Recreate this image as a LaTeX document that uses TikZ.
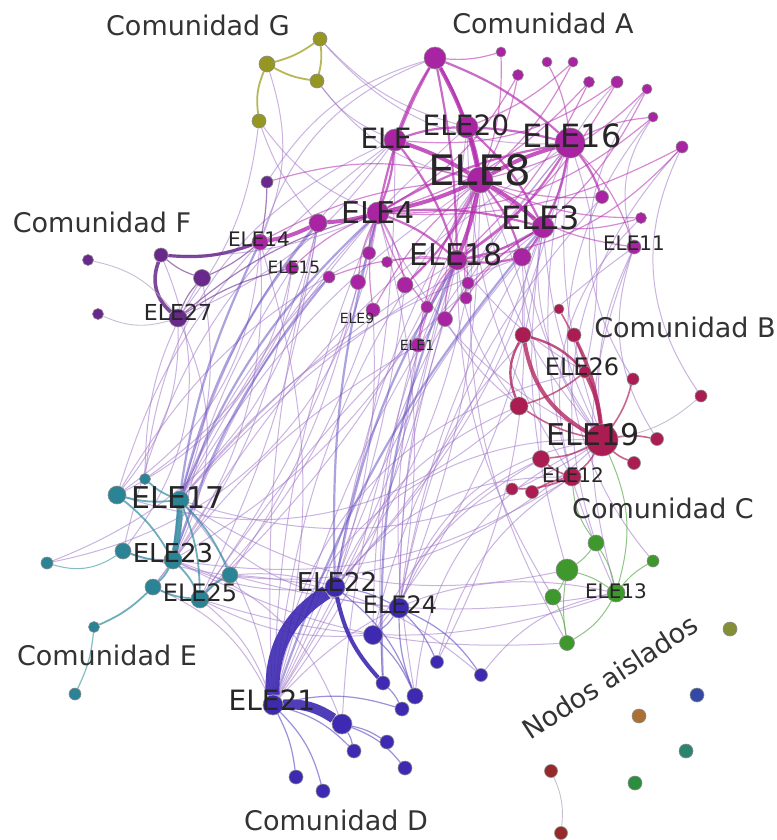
\documentclass[tikz,border=0pt]{standalone}
\usepackage{fontspec}
\setmainfont{DejaVu Sans}
\usetikzlibrary{backgrounds}

\definecolor{colA}{RGB}{168,36,162}
\definecolor{colB}{RGB}{170,28,82}
\definecolor{colC}{RGB}{62,152,44}
\definecolor{colD}{RGB}{62,42,178}
\definecolor{colE}{RGB}{42,132,150}
\definecolor{colF}{RGB}{104,40,140}
\definecolor{colG}{RGB}{150,150,34}
\definecolor{linkLilac}{RGB}{160,118,200}
\definecolor{linkBlue}{RGB}{90,70,190}
\definecolor{linkGray}{RGB}{175,165,190}
\definecolor{linkMag}{RGB}{180,45,175}
\definecolor{linkCrim}{RGB}{178,38,95}
\definecolor{linkTeal}{RGB}{50,142,158}
\definecolor{linkGreen}{RGB}{95,172,82}
\definecolor{linkOlive}{RGB}{165,165,45}

\pgfdeclarelayer{edges}
\pgfsetlayers{background,edges,main}

\tikzset{
    vtx/.style={
           circle,
           inner sep=0pt,
           draw=black!45, line width=0.3pt,
           },
    nA/.style={vtx, fill=colA, minimum size=#1pt},
    nB/.style={vtx, fill=colB, minimum size=#1pt},
    nC/.style={vtx, fill=colC, minimum size=#1pt},
    nD/.style={vtx, fill=colD, minimum size=#1pt},
    nE/.style={vtx, fill=colE, minimum size=#1pt},
    nF/.style={vtx, fill=colF, minimum size=#1pt},
    nG/.style={vtx, fill=colG, minimum size=#1pt},
    elelbl/.style={text=black!85, inner sep=0pt, font=\fontsize{#1}{#1}\selectfont},
    comlbl/.style={text=black!80, inner sep=0pt, font=\fontsize{13.5}{15}\selectfont},
    link/.style={draw=linkLilac, line width=0.5pt, opacity=0.55},
    greylink/.style={draw=linkGray, line width=0.45pt, opacity=0.7},
    bluelink/.style={draw=linkBlue, line width=0.5pt, opacity=0.5},
}

\begin{document}
\begin{tikzpicture}[x=0.5pt, y=-0.5pt]
  \useasboundingbox (0,0) rectangle (776,840);
  \begin{pgfonlayer}{background}
    \fill[white] (0,0) rectangle (776,840);
  \end{pgfonlayer}

  % Comunidad A
  \node[nA=11] (aT)    at (435,58)  {};
  \node[nA=5]  (t1)    at (501,52)  {};
  \node[nA=5.5](t2)    at (518,75)  {};
  \node[nA=5]  (t3)    at (547,62)  {};
  \node[nA=5]  (t4)    at (573,62)  {};
  \node[nA=5.5](t5)    at (589,82)  {};
  \node[nA=6]  (t6)    at (617,82)  {};
  \node[nA=5]  (t7)    at (647,89)  {};
  \node[nA=5]  (t8)    at (653,117) {};
  \node[nA=6]  (t9)    at (682,147) {};
  \node[nA=6.5](t10)   at (602,197) {};
  \node[nA=5.5](t11)   at (641,218) {};
  \node[nA=7]  (ele11) at (634,247) {};
  \node[nA=11] (ele)   at (395,140) {};
  \node[nA=11] (ele20) at (467,127) {};
  \node[nA=15] (ele16) at (570,143) {};
  \node[nA=13] (ele8)  at (480,180) {};
  \node[nA=11] (ele4)  at (378,213) {};
  \node[nA=9]  (aL)    at (318,223) {};
  \node[nA=11] (ele3)  at (543,227) {};
  \node[nA=9]  (aR)    at (522,257) {};
  \node[nA=10] (ele18) at (457,260) {};
  \node[nA=6.5](m1)    at (369,253) {};
  \node[nA=5.5](m2)    at (387,262) {};
  \node[nA=8]  (m3)    at (405,285) {};
  \node[nA=6]  (m4)    at (468,283) {};
  \node[nA=6]  (m5)    at (329,277) {};
  \node[nA=7.5](m6)    at (358,282) {};
  \node[nA=6]  (m7)    at (466,298) {};
  \node[nA=6]  (m8)    at (427,307) {};
  \node[nA=7.5](m9)    at (445,319) {};
  \node[nA=7]  (ele9)  at (373,310) {};
  \node[nA=7]  (ele1)  at (418,345) {};
  \node[nA=8]  (ele14) at (260,242) {};
  \node[nA=6.5](ele15) at (292,268) {};

  % Comunidad F
  \node[nF=5.5](f1)    at (88,260)  {};
  \node[nF=7]  (f2)    at (161,255) {};
  \node[nF=8.5](f3)    at (202,278) {};
  \node[nF=5.5](f4)    at (98,314)  {};
  \node[nF=6]  (f5)    at (267,182) {};
  \node[nF=9]  (ele27) at (178,318) {};

  % Comunidad G
  \node[nG=7]  (g1)    at (320,39)  {};
  \node[nG=8]  (g2)    at (267,64)  {};
  \node[nG=7]  (g3)    at (317,81)  {};
  \node[nG=7]  (g4)    at (259,121) {};

  % Comunidad B
  \node[nB=8]  (b1)    at (523,335) {};
  \node[nB=7]  (b2)    at (574,335) {};
  \node[nB=5]  (b3)    at (559,309) {};
  \node[nB=6]  (b4)    at (633,379) {};
  \node[nB=6]  (b5)    at (701,396) {};
  \node[nB=9]  (b6)    at (519,406) {};
  \node[nB=6]  (ele26) at (585,372) {};
  \node[nB=16] (ele19) at (602,440) {};
  \node[nB=6.5](b7)    at (657,439) {};
  \node[nB=6.5](b8)    at (634,463) {};
  \node[nB=8.5](b9)    at (541,459) {};
  \node[nB=9]  (ele12) at (572,477) {};
  \node[nB=6]  (b10)   at (512,489) {};
  \node[nB=6.5](b11)   at (532,492) {};

  % Comunidad C
  \node[nC=8]  (c1)    at (596,543) {};
  \node[nC=11] (c2)    at (567,570) {};
  \node[nC=6]  (c3)    at (653,561) {};
  \node[nC=8]  (c4)    at (553,597) {};
  \node[nC=9]  (ele13) at (616,593) {};
  \node[nC=7.5](c5)    at (567,643) {};

  % Comunidad D
  \node[nD=10] (ele22) at (335,587) {};
  \node[nD=10] (ele24) at (399,608) {};
  \node[nD=9.5](d1)    at (373,635) {};
  \node[nD=6.5](d2)    at (437,662) {};
  \node[nD=6.5](d3)    at (481,675) {};
  \node[nD=7]  (d4)    at (383,683) {};
  \node[nD=8]  (d5)    at (415,696) {};
  \node[nD=7]  (d6)    at (402,709) {};
  \node[nD=10] (ele21) at (273,705) {};
  \node[nD=10] (d7)    at (342,724) {};
  \node[nD=7]  (d8)    at (387,742) {};
  \node[nD=7]  (d9)    at (354,751) {};
  \node[nD=7]  (d10)   at (405,768) {};
  \node[nD=7]  (d11)   at (296,777) {};
  \node[nD=7]  (d12)   at (323,791) {};

  % Comunidad E
  \node[nE=9]  (e1)    at (117,495) {};
  \node[nE=5.5](e2)    at (145,479) {};
  \node[nE=9]  (ele17) at (180,500) {};
  \node[nE=6]  (e3)    at (47,563)  {};
  \node[nE=8]  (e4)    at (123,551) {};
  \node[nE=9]  (ele23) at (173,560) {};
  \node[nE=8]  (e5)    at (230,575) {};
  \node[nE=8]  (e6)    at (153,587) {};
  \node[nE=9]  (ele25) at (200,599) {};
  \node[nE=5.5](e7)    at (94,627)  {};
  \node[nE=6]  (e8)    at (75,694)  {};

  % Nodos aislados
  \node[vtx, fill={rgb,255:red,132;green,142;blue,52}, minimum size=7pt] (i1) at (730,629) {};
  \node[vtx, fill={rgb,255:red,52;green,72;blue,165}, minimum size=7pt]  (i2) at (697,695) {};
  \node[vtx, fill={rgb,255:red,172;green,112;blue,52}, minimum size=7pt] (i3) at (639,716) {};
  \node[vtx, fill={rgb,255:red,42;green,132;blue,112}, minimum size=7pt] (i4) at (686,751) {};
  \node[vtx, fill={rgb,255:red,42;green,142;blue,62}, minimum size=7pt]  (i5) at (635,783) {};
  \node[vtx, fill={rgb,255:red,150;green,42;blue,42}, minimum size=6.5pt] (i6) at (551,771) {};
  \node[vtx, fill={rgb,255:red,150;green,42;blue,42}, minimum size=6.5pt] (i7) at (561,833) {};

  \begin{pgfonlayer}{edges}
    % long links between communities
    \foreach \s/\t/\b in {ele/ele17/-15, ele20/ele17/-10, ele8/ele17/-12, ele18/ele17/-8, ele3/ele17/-10,
        ele16/ele23/-12, ele4/ele23/-10, ele18/ele23/15, ele8/ele25/12, ele3/ele25/-8, ele4/ele25/10,
        aL/ele25/8, ele15/ele23/-10, m1/e1/-15, m5/ele17/-10, m6/e5/10, ele9/ele25/12, ele1/ele23/-10,
        ele14/e1/-12, ele15/e6/15, aR/ele17/-15, ele/e4/-20,
        ele8/ele22/-10, ele8/ele24/10, ele8/ele21/-15, ele3/ele22/12, ele3/ele24/-10, ele3/d1/15,
        ele16/ele22/15, ele16/ele21/-12, ele20/ele21/12, ele18/ele24/-8, ele18/ele21/10, ele18/d1/-12,
        ele4/ele21/-10, ele4/ele24/12, aR/ele22/-10, aR/d2/15, m9/ele24/-8, m3/ele21/10, m7/ele22/12,
        m8/d4/-10, ele1/ele21/15, ele1/d5/-10, ele9/ele22/10, ele/ele21/12, aL/ele21/-8, ele14/ele21/15,
        t10/ele24/-15, ele11/d1/-20, ele16/d7/-18,
        ele8/ele19/-15, ele3/ele19/-10, ele16/ele19/-12, ele18/ele26/-10, ele3/b1/-12, ele18/b6/-15,
        ele4/ele19/-18, aR/ele19/-10, ele16/ele26/15, ele11/ele19/-15, t9/b5/-30, ele20/ele12/-15,
        ele8/b9/12, m9/b6/-10, t7/b4/-35, t8/ele11/-25,
        ele16/ele13/-18, ele3/c2/-12, t9/c1/-30, ele11/ele13/-18, ele18/c4/-15, ele8/c5/-18,
        ele/ele27/15, ele4/f2/12, aT/f5/-20, aT/ele14/-25,
        ele21/ele19/40, ele22/ele12/25, ele24/ele19/30, d1/b9/15, d3/ele13/20, ele21/ele26/35, ele22/b6/20,
        ele23/ele22/-15, ele25/ele21/15, ele17/ele24/-20, e5/ele22/10, e6/ele21/20, ele23/d7/25,
        ele17/ele21/15, ele25/d1/-15, e5/d3/18,
        ele17/ele19/-25, ele23/ele12/-20, e1/b6/-30, ele25/ele13/-18, ele17/c2/-22, ele23/c5/-15,
        e5/ele13/-12, e4/ele19/-30,
        e3/ele4/-35, e2/aL/-20, e1/ele14/-25, g4/ele27/15, g2/ele14/20, g3/ele/-15, g3/ele8/-20,
        g4/ele4/-15, g4/aL/-10, g1/ele20/-15, g1/ele16/-25,
        ele27/e1/20, f3/ele17/15, ele27/ele23/25, f2/e4/30, ele14/e6/20, aL/e3/30, f3/e2/-15,
        ele15/e1/25, ele/e2/-30, t6/ele19/-40, t8/c3/-40, ele11/b7/-25, t11/ele12/-30,
        ele21/ele13/30, d5/ele19/30, d2/ele12/20, ele24/b9/20}
      \draw[link] (\s) to[bend left=\b] (\t);
    \foreach \s/\t/\b in {ele4/ele17/-12, aL/ele17/-12, ele14/ele23/-10, ele18/ele22/-10,
        ele4/ele22/-8, m5/ele23/-10, ele18/d4/-12, ele3/ele21/-10}
      \draw[bluelink, line width=1.1pt] (\s) to[bend left=\b] (\t);

    % Comunidad A
    \foreach \s/\t/\b in {t1/ele8/10, t2/ele8/8, t3/ele16/10, t4/ele8/10, t5/ele4/15, t6/ele18/12,
        t7/ele3/10, t8/ele16/-10, t9/ele4/15, t10/ele8/10, t11/ele3/10, ele11/ele16/-12, ele11/ele8/15,
        m1/ele4/10, m2/ele18/10, m3/ele4/-10, m4/ele8/10, m5/ele18/12, m6/ele4/10, m7/ele8/10,
        m8/ele18/10, m9/ele3/12, ele9/ele8/10, ele1/ele18/10, ele14/ele8/12, ele15/ele4/10, f5/ele8/15,
        t9/ele18/20, t6/ele/20, t2/ele4/15, t1/aT/10, t4/ele20/10, t5/ele18/10, t7/ele8/15,
        t8/ele4/20, t11/ele8/12, m9/ele18/10, ele1/ele8/12, ele9/ele4/10, m7/ele3/12, m8/ele4/10}
      \draw[draw=linkMag, line width=0.6pt, opacity=0.55] (\s) to[bend left=\b] (\t);
    \foreach \s/\t/\b in {aT/ele20/5, aT/ele/-5, aT/ele16/10, aT/ele4/-8, aT/ele18/5, ele/ele4/8,
        ele/ele18/10, ele20/ele16/5, ele16/ele3/8, ele3/ele18/10, ele4/ele18/10, ele3/aR/8,
        ele18/aR/-10, ele8/aR/10, ele16/t10/8, ele4/ele3/10, ele8/m3/10, ele16/ele18/12,
        ele20/ele3/10, ele/ele20/8, ele4/ele16/10}
      \draw[draw=linkMag, line width=1.1pt, opacity=0.7] (\s) to[bend left=\b] (\t);
    \foreach \s/\t/\b in {ele8/ele16/6, ele8/ele3/6, ele8/ele18/5, ele8/ele4/6, aT/ele8/8,
        ele/ele8/6, ele20/ele8/5, ele4/aL/5, aL/ele14/8}
      \draw[draw=linkMag, line width=2pt, opacity=0.8] (\s) to[bend left=\b] (\t);

    % Comunidad F
    \draw[draw=colF, line width=1.6pt, opacity=0.85] (f2) to[bend right=12] (ele14);
    \draw[draw=colF, line width=1.8pt, opacity=0.85] (f2) to[bend right=35] (ele27);
    \foreach \s/\t/\b in {f2/f3/-10, ele27/f3/10, f3/ele14/-8, ele27/ele15/10, ele27/ele4/12, f5/ele14/5}
      \draw[draw=colF, line width=0.6pt, opacity=0.6] (\s) to[bend left=\b] (\t);
    \draw[greylink] (f1) to[bend left=20] (ele27);
    \draw[greylink] (f4) to[bend right=20] (ele27);

    % Comunidad G
    \foreach \s/\t/\b in {g1/g2/10, g1/g3/10, g2/g3/-10, g2/g4/-15}
      \draw[draw=linkOlive, line width=0.9pt, opacity=0.8] (\s) to[bend left=\b] (\t);

    % Comunidad B
    \draw[draw=linkCrim, line width=2pt, opacity=0.8] (ele19) to[bend right=10] (ele26);
    \draw[draw=linkCrim, line width=2pt, opacity=0.8] (ele19) to[bend left=25] (b1);
    \draw[draw=linkCrim, line width=1.4pt, opacity=0.8] (ele19) to[bend right=10] (b2);
    \draw[draw=linkCrim, line width=1.2pt, opacity=0.8] (ele26) to[bend right=15] (b1);
    \draw[draw=linkCrim, line width=1.2pt, opacity=0.8] (b1) to[bend right=25] (b6);
    \foreach \s/\t/\b in {ele19/b6/10, ele19/ele12/10, ele19/b7/10, ele19/b8/-10, ele19/b9/10,
        ele12/b10/10, ele12/b11/-10, b3/ele19/10, b4/ele19/10, ele26/b6/10, ele12/b9/10}
      \draw[draw=linkCrim, line width=0.8pt, opacity=0.7] (\s) to[bend left=\b] (\t);
    \draw[greylink] (b5) to[bend left=15] (ele19);

    % Comunidad C
    \foreach \s/\t/\b in {c1/c2/10, c2/ele13/10, c2/c4/10, c4/c5/10, ele13/c3/10, ele13/c5/15,
        c1/ele13/10, c2/c5/-8, ele13/ele19/-20, c1/ele12/15}
      \draw[draw=linkGreen, line width=0.5pt, opacity=0.7] (\s) to[bend left=\b] (\t);

    % Comunidad D
    \draw[draw=colD, line width=7pt, opacity=0.9] (ele22) to[bend right=30] (ele21);
    \draw[draw=colD, line width=5pt, opacity=0.9] (ele21) to[bend left=18] (d7);
    \draw[draw=colD, line width=2pt, opacity=0.9] (ele22) to[bend right=15] (d4);
    \foreach \s/\t/\b in {ele24/d1/10, ele22/ele24/10, ele21/d11/10, ele21/d12/15, ele21/d9/15,
        d7/d8/10, d7/d10/15, ele24/d2/10, ele24/d3/15, ele22/d5/15, ele21/d6/15, d1/d5/10,
        ele24/d5/-10, d7/d9/10, d4/d6/10}
      \draw[draw=linkBlue, line width=0.6pt, opacity=0.6] (\s) to[bend left=\b] (\t);

    % Comunidad E
    \draw[draw=linkTeal, line width=3pt, opacity=0.85] (ele17) to[bend left=5] (ele23);
    \foreach \s/\t/\b in {ele17/e1/10, ele17/e2/10, ele23/e4/10, ele23/ele25/10, ele25/e5/10,
        ele25/e6/10, e6/e7/10, ele23/e6/10, ele17/e5/10, e1/ele23/10, ele25/ele17/-10}
      \draw[draw=linkTeal, line width=0.9pt, opacity=0.7] (\s) to[bend left=\b] (\t);
    \draw[draw=linkTeal, line width=0.5pt, opacity=0.6] (e4) to[bend left=25] (e3);
    \draw[draw=linkTeal, line width=0.6pt, opacity=0.6] (e7) to[bend left=10] (e8);

    % Nodos aislados
    \draw[greylink] (i6) to[bend left=15] (i7);
  \end{pgfonlayer}

  % labels
  \node[elelbl=21] (lbl8)  at (480,170) {ELE8};
  \node[elelbl=14] (lbl20) at (466,125) {ELE20};
  \node[elelbl=14] (lblx)  at (386,138) {ELE};
  \node[elelbl=16] (lbl16) at (572,136) {ELE16};
  \node[elelbl=15] (lbl4)  at (378,213) {ELE4};
  \node[elelbl=16] (lbl3)  at (541,218) {ELE3};
  \node[elelbl=15] (lbl18) at (456,255) {ELE18};
  \node[elelbl=10] (lbl11) at (634,243) {ELE11};
  \node[elelbl=10] (lbl14) at (259,239) {ELE14};
  \node[elelbl=8.5](lbl15) at (294,267) {ELE15};
  \node[elelbl=11] (lbl27) at (178,312) {ELE27};
  \node[elelbl=7]  (lbl9)  at (357,318) {ELE9};
  \node[elelbl=7]  (lbl1)  at (417,345) {ELE1};
  \node[elelbl=12] (lbl26) at (582,367) {ELE26};
  \node[elelbl=15] (lbl19) at (593,435) {ELE19};
  \node[elelbl=10] (lbl12) at (573,475) {ELE12};
  \node[elelbl=10] (lbl13) at (616,591) {ELE13};
  \node[elelbl=15] (lbl17) at (178,498) {ELE17};
  \node[elelbl=13] (lbl23) at (173,553) {ELE23};
  \node[elelbl=12] (lbl25) at (200,593) {ELE25};
  \node[elelbl=13] (lbl22) at (337,582) {ELE22};
  \node[elelbl=12] (lbl24) at (400,605) {ELE24};
  \node[elelbl=14] (lbl21) at (272,700) {ELE21};

  \node[comlbl] (comG) at (198,25)  {Comunidad G};
  \node[comlbl] (comA) at (543,23)  {Comunidad A};
  \node[comlbl] (comF) at (102,222) {Comunidad F};
  \node[comlbl] (comB) at (685,327) {Comunidad B};
  \node[comlbl] (comC) at (663,508) {Comunidad C};
  \node[comlbl] (comE) at (107,655) {Comunidad E};
  \node[comlbl] (comD) at (336,820) {Comunidad D};
  \node[comlbl, rotate=33] (aislados) at (610,677) {Nodos aislados};
\end{tikzpicture}
\end{document}
